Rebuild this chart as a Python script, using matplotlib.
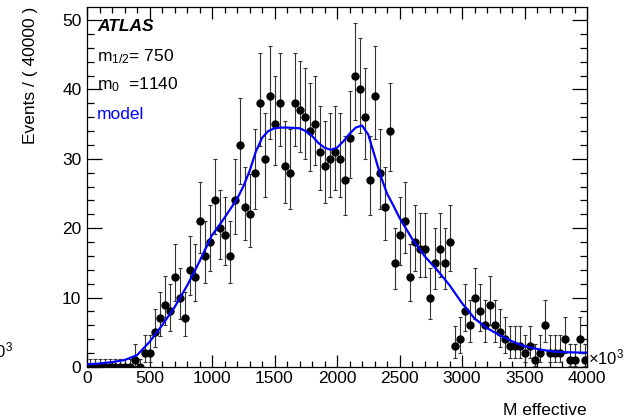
import numpy as np
import matplotlib
matplotlib.use("Agg")
import matplotlib.pyplot as plt
from matplotlib.ticker import MultipleLocator

plt.rcParams['font.family'] = ['Liberation Sans', 'DejaVu Sans']
plt.rcParams['mathtext.fontset'] = 'custom'
plt.rcParams['mathtext.rm'] = 'Liberation Sans'
plt.rcParams['mathtext.it'] = 'Liberation Sans:italic'

# binned data, 100 bins of width 40 (x10^3) from 0 to 4000
bin_width = 40
counts = [0, 0, 0, 0, 0, 0, 0, 0, 0, 1,
          0, 2, 2, 5, 7, 9, 8, 13, 10, 7,
          14, 13, 21, 16, 18, 24, 20, 19, 16, 24,
          32, 23, 22, 28, 38, 30, 39, 35, 38, 29,
          28, 38, 37, 36, 34, 35, 31, 29, 30, 31,
          30, 27, 33, 42, 40, 36, 27, 39, 28, 23,
          34, 15, 19, 21, 13, 18, 17, 17, 10, 15,
          17, 15, 18, 3, 4, 8, 6, 10, 8, 6,
          9, 6, 5, 4, 3, 3, 3, 2, 3, 1,
          2, 6, 2, 2, 2, 4, 1, 1, 4, 1]

# model curve
model_x = [0, 100, 200, 300, 400, 500, 600, 700, 800, 900,
           1000, 1050, 1100, 1200, 1250, 1300, 1350, 1400, 1450, 1500,
           1550, 1600, 1700, 1750, 1800, 1850, 1900, 1950, 2000, 2050,
           2100, 2150, 2200, 2250, 2300, 2350, 2400, 2450, 2500, 2600,
           2700, 2800, 2900, 3000, 3100, 3200, 3300, 3400, 3500, 3600,
           3700, 3800, 3900, 4000]
model_y = [0.4, 0.5, 0.7, 1.0, 1.7, 3.6, 6.0, 8.6, 11.7, 15.2,
           19.0, 20.2, 21.5, 24.2, 26.0, 28.2, 31.0, 33.0, 34.0, 34.4,
           34.5, 34.5, 34.4, 34.0, 33.3, 32.3, 31.6, 31.3, 31.6, 32.5,
           33.6, 34.5, 34.8, 33.5, 30.5, 27.5, 25.0, 23.3, 21.5, 18.5,
           16.0, 14.0, 11.8, 9.2, 7.0, 5.6, 4.6, 3.7, 3.0, 2.6,
           2.3, 2.15, 2.1, 2.05]


def pois_cdf(n, mu):
    k = np.arange(n + 1)
    logf = np.cumsum(np.log(np.maximum(k, 1)))
    return np.sum(np.exp(-mu + k * np.log(mu) - logf)) if mu > 0 else 1.0


def solve(f, target, lo, hi):
    # f decreasing in mu
    for _ in range(80):
        mid = 0.5 * (lo + hi)
        if f(mid) > target:
            lo = mid
        else:
            hi = mid
    return 0.5 * (lo + hi)


def poisson_interval(n):
    # central 68% interval, one-sided for n = 0
    alpha = 0.15865
    if n == 0:
        return 0.0, solve(lambda m: np.exp(-m), 2 * alpha, 0, 10)
    lo = solve(lambda m: pois_cdf(n - 1, m), 1 - alpha, 1e-9, n + 20)
    hi = solve(lambda m: pois_cdf(n, m), alpha, 1e-9, n + 40)
    return lo, hi


centers = np.arange(len(counts)) * bin_width + bin_width / 2
counts = np.array(counts)
lows, highs = zip(*[poisson_interval(n) for n in counts])
err_lo = counts - np.array(lows)
err_hi = np.array(highs) - counts

fig = plt.figure(figsize=(6.25, 4.18), dpi=100)
ax = fig.add_axes([87 / 625, 1 - 367 / 418, 500 / 625, 360 / 418])

ax.errorbar(centers, counts, yerr=[err_lo, err_hi], fmt='o', color='black',
            ecolor='#333333', elinewidth=0.8, capsize=1.3, capthick=0.8,
            markersize=5, zorder=3)
ax.plot(model_x, model_y, color='#0000ff', lw=1.6, zorder=4)

ax.set_xlim(0, 4000)
ax.set_ylim(0, 360 / 6.94)
ax.xaxis.set_major_locator(MultipleLocator(500))
ax.xaxis.set_minor_locator(MultipleLocator(100))
ax.yaxis.set_major_locator(MultipleLocator(10))
ax.yaxis.set_minor_locator(MultipleLocator(2))
ax.tick_params(which='both', direction='in', top=True, right=True,
               labelsize=12.5, width=0.9, colors='black')
ax.tick_params(axis='x', which='major', length=8.5, pad=3)
ax.tick_params(axis='x', which='minor', length=4.3)
ax.tick_params(axis='y', which='major', length=11, pad=4)
ax.tick_params(axis='y', which='minor', length=5.3)
for s in ax.spines.values():
    s.set_linewidth(0.9)

ax.set_ylabel('Events / ( 40000 )', fontsize=12.5, loc='top', labelpad=17)
ax.set_xlabel('M effective', fontsize=12.5, loc='right', labelpad=12)

ax.text(0.02, 0.967, 'ATLAS', transform=ax.transAxes, fontsize=12.5,
        fontweight='bold', fontstyle='italic', va='top')
ax.text(0.02, 0.85, 'm$_{1/2}$= 750', transform=ax.transAxes, fontsize=12.5,
        va='baseline')
ax.text(0.02, 0.77, 'm$_{0}$  =1140', transform=ax.transAxes, fontsize=12.5,
        va='baseline')
ax.text(0.02, 0.69, 'model', transform=ax.transAxes, fontsize=12.5,
        color='#0000ff', va='baseline')

fig.text(588 / 625, 1 - 364 / 418, '$\\times$10$^{3}$', fontsize=12,
         va='baseline', ha='left')
fig.text(13 / 625, 1 - 357 / 418, '$\\times$10$^{3}$', fontsize=12,
         va='baseline', ha='right')

fig.savefig('out.png', dpi=100)
